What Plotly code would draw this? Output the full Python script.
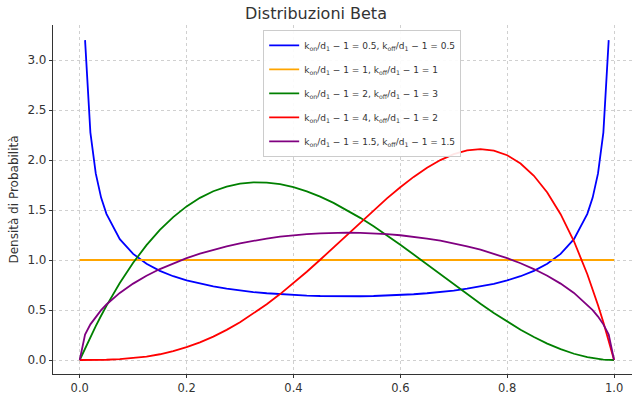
import plotly.graph_objects as go

x_vals = [0.0, 0.01, 0.02, 0.03, 0.04, 0.05,
          0.075, 0.1, 0.125, 0.15, 0.175, 0.2, 0.225, 0.25, 0.275, 0.3, 0.325, 0.35, 0.375,
          0.4, 0.425, 0.45, 0.475, 0.5, 0.525, 0.55, 0.575, 0.6, 0.625, 0.65, 0.675, 0.7,
          0.725, 0.75, 0.775, 0.8, 0.825, 0.85, 0.875, 0.9, 0.925,
          0.95, 0.96, 0.97, 0.98, 0.99, 1.0]

# blue: starts/ends just inside the interval (unbounded at the edges)
x_blue = x_vals[1:-1]
y_blue = [3.199, 2.274, 1.866, 1.624, 1.461,
          1.208, 1.061, 0.9625, 0.8914, 0.8377, 0.7958, 0.7622, 0.7351, 0.7129, 0.6946,
          0.6796, 0.6673, 0.6575, 0.6498, 0.6440, 0.6398, 0.6374, 0.6366,
          0.6374, 0.6398, 0.6440, 0.6498, 0.6575, 0.6673, 0.6796, 0.6946, 0.7129, 0.7351,
          0.7622, 0.7958, 0.8377, 0.8914, 0.9625, 1.061, 1.208,
          1.461, 1.624, 1.866, 2.274, 3.199]

y_orange = [1.0] * 47

y_green = [0.0, 0.1176, 0.2305, 0.3387, 0.4424, 0.5415,
           0.7701, 0.972, 1.1484, 1.3005, 1.4293, 1.536, 1.6217, 1.6875, 1.7346, 1.764,
           1.7769, 1.7745, 1.7578, 1.728, 1.6862, 1.6335, 1.5711, 1.5, 1.4214, 1.3365,
           1.2463, 1.152, 1.0547, 0.9555, 0.8556, 0.756, 0.6579, 0.5625, 0.4708, 0.384,
           0.3032, 0.2295, 0.1641, 0.108, 0.0624,
           0.0285, 0.0184, 0.0105, 0.0047, 0.0012, 0.0]

y_red = [0.0, 0.00002, 0.00016, 0.00052, 0.00123, 0.00238,
         0.0078, 0.018, 0.0342, 0.0574, 0.0884, 0.128, 0.1766, 0.2344, 0.3016, 0.378,
         0.4634, 0.5574, 0.6592, 0.768, 0.8828, 1.0024, 1.1253, 1.25, 1.3747, 1.4974,
         1.6159, 1.728, 1.8311, 1.9224, 1.9991, 2.058, 2.0959, 2.1094, 2.0947, 2.048,
         1.9653, 1.8424, 1.6748, 1.458, 1.1872,
         0.8574, 0.7078, 0.5476, 0.3765, 0.1941, 0.0]

y_purple = [0.0, 0.2534, 0.3565, 0.4344, 0.4991, 0.5549,
            0.6707, 0.7639, 0.8421, 0.9093, 0.9677, 1.0186, 1.0634, 1.1026, 1.1370, 1.1670,
            1.1928, 1.2147, 1.2328, 1.2475, 1.2587, 1.2669, 1.2717, 1.2732,
            1.2717, 1.2669, 1.2587, 1.2475, 1.2328, 1.2147, 1.1928, 1.1670, 1.1370, 1.1026,
            1.0634, 1.0186, 0.9677, 0.9093, 0.8421, 0.7639, 0.6707,
            0.5549, 0.4991, 0.4344, 0.3565, 0.2534, 0.0]

labels = [
    "k<sub>on</sub>/d<sub>1</sub> − 1 = 0.5, k<sub>off</sub>/d<sub>1</sub> − 1 = 0.5",
    "k<sub>on</sub>/d<sub>1</sub> − 1 = 1, k<sub>off</sub>/d<sub>1</sub> − 1 = 1",
    "k<sub>on</sub>/d<sub>1</sub> − 1 = 2, k<sub>off</sub>/d<sub>1</sub> − 1 = 3",
    "k<sub>on</sub>/d<sub>1</sub> − 1 = 4, k<sub>off</sub>/d<sub>1</sub> − 1 = 2",
    "k<sub>on</sub>/d<sub>1</sub> − 1 = 1.5, k<sub>off</sub>/d<sub>1</sub> − 1 = 1.5",
]
colors = ["#0000ff", "#ffa500", "#008000", "#ff0000", "#800080"]

series = [(x_blue, y_blue), (x_vals, y_orange), (x_vals, y_green), (x_vals, y_red), (x_vals, y_purple)]

fig = go.Figure()
for i, ((xs, ys), lab, col) in enumerate(zip(series, labels, colors)):
    fig.add_trace(go.Scatter(x=xs, y=ys, mode="lines", name=lab, legendgroup=f"g{i}",
                             line=dict(color=col, width=1.8)))

fig.update_layout(
    width=632, height=394,
    margin=dict(l=53, r=0, t=25, b=20),
    paper_bgcolor="white", plot_bgcolor="white",
    font=dict(family="DejaVu Sans", color="#333333", size=12),
    title=dict(text="Distribuzioni Beta", x=0.5, xanchor="center", y=0.965, yanchor="middle",
               font=dict(size=16, color="#333333")),
    showlegend=True,
    legend=dict(x=0.363, y=0.986, xanchor="left", yanchor="top",
                bgcolor="rgba(255,255,255,0.9)", bordercolor="#cccccc", borderwidth=1,
                font=dict(size=9, color="#333333"), tracegroupgap=5, itemwidth=30),
)
fig.update_xaxes(range=[-0.05, 1.0336], tickvals=[0, 0.2, 0.4, 0.6, 0.8, 1.0],
                 ticktext=["0.0", "0.2", "0.4", "0.6", "0.8", "1.0"], automargin=False,
                 tickfont=dict(size=11.5),
                 showgrid=True, gridcolor="#d0d0d0", griddash="dot", gridwidth=1,
                 showline=True, linecolor="#333333", linewidth=1.2, mirror=False,
                 ticks="outside", ticklen=3, tickcolor="#333333", zeroline=False)
fig.update_yaxes(range=[-0.14, 3.35], tickvals=[0, 0.5, 1.0, 1.5, 2.0, 2.5, 3.0],
                 ticktext=["0.0", "0.5", "1.0", "1.5", "2.0", "2.5", "3.0"], automargin=False,
                 title=dict(text="Densità di Probabilità", standoff=6, font=dict(size=12)),
                 showgrid=True, gridcolor="#d0d0d0", griddash="dot", gridwidth=1,
                 showline=True, linecolor="#333333", linewidth=1.2, mirror=False,
                 ticks="outside", ticklen=3, tickcolor="#333333", zeroline=False)

fig.write_html("out.html")
